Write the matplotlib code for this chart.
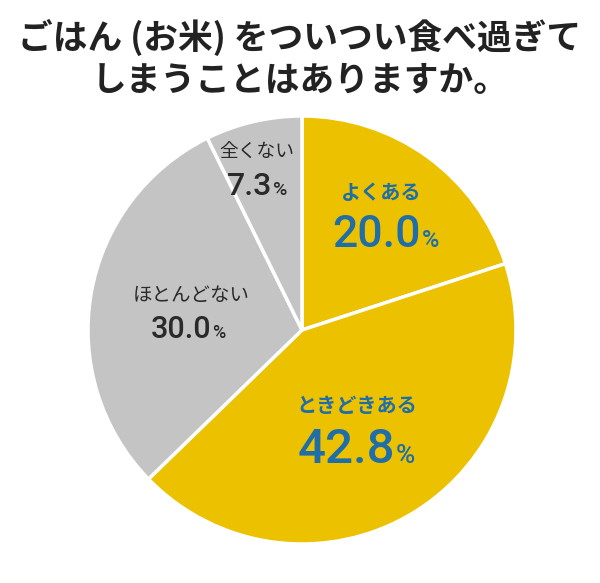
import matplotlib
matplotlib.use("Agg")
import matplotlib.pyplot as plt

categories = ["よくある", "ときどきある", "ほとんどない", "全くない"]
values = [20.0, 42.8, 30.0, 7.3]
value_labels = ["20.0", "42.8", "30.0", "7.3"]
title = "ごはん (お米) をついつい食べ過ぎて\nしまうことはありますか。"

colors = ["#EBC100", "#EBC100", "#C4C4C4", "#C4C4C4"]
text_colors = ["#1F6EA8", "#1F6EA8", "#2A2A2A", "#2A2A2A"]

jp = ["Noto Sans CJK JP", "DejaVu Sans"]
num_font = ["Roboto", "DejaVu Sans"]

fig = plt.figure(figsize=(6.0, 5.83), dpi=100)
W, H = 600, 583
cx, cy, r = 302, 330, 214
ax = fig.add_axes([(cx - r) / W, (H - cy - r) / H, 2 * r / W, 2 * r / H])
ax.pie(values, colors=colors, startangle=90, counterclock=False, radius=1,
       wedgeprops=dict(edgecolor="white", linewidth=2.5))
ax.set_xlim(-1, 1)
ax.set_ylim(-1, 1)
ax.set_aspect("equal")
ax.axis("off")

fig.text(0.5, 1 - 58 / H, title, ha="center", va="center", fontsize=25,
         fontweight="bold", family=jp, color="#222222", linespacing=1.25)

def px(x, y):
    return ((x - cx) / r, (cy - y) / r)

# (category centre, number right end + baseline, cat size, cat weight, num size, pct size)
specs = [
    ((381, 193), (421, 247), 14.5, "bold", 32, 17),
    ((357, 406), (395, 463), 14.5, "bold", 35.5, 19),
    ((191, 296), (211, 338), 14, "normal", 22, 13),
    ((257, 152), (272, 195), 13.5, "normal", 23, 14),
]
for i, (cp, npos, cs, cw, ns, ps) in enumerate(specs):
    x, y = px(*cp)
    ax.text(x, y, categories[i], ha="center", va="center", fontsize=cs,
            fontweight=cw, family=jp, color=text_colors[i])
    x, y = px(*npos)
    ax.text(x, y, value_labels[i], ha="right", va="baseline", fontsize=ns,
            fontweight=500, family=num_font, color=text_colors[i])
    ax.text(x + 0.005, y, "%", ha="left", va="baseline", fontsize=ps,
            fontweight=500, family=num_font, color=text_colors[i])

fig.savefig("out.png", dpi=100, facecolor="white")
